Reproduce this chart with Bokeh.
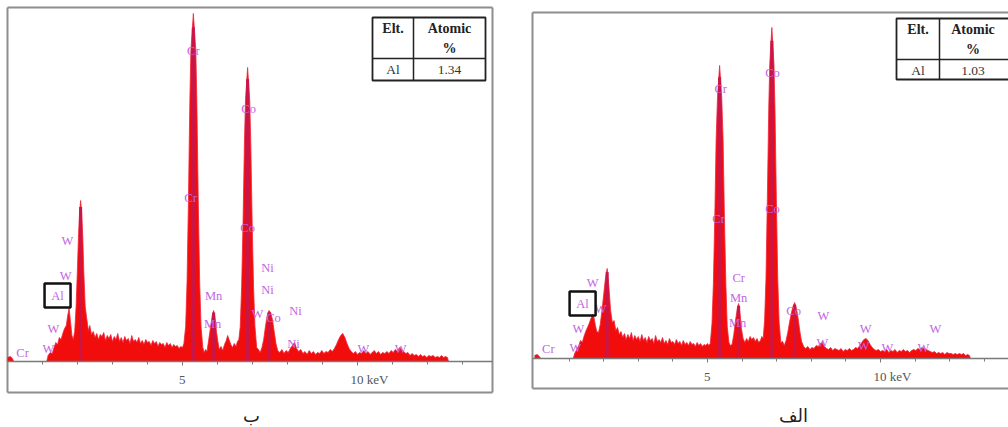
from bokeh.plotting import figure
from bokeh.models import Range1d, FixedTicker, ColumnDataSource
from bokeh.layouts import row
from bokeh.embed import file_html
from bokeh.resources import INLINE
from bokeh.core.properties import value

# ---------------- data ----------------
# energy in keV, counts in arbitrary units
LEFT_E = [0.00, 0.08, 0.14, 0.18, 1.12, 1.16, 1.22, 1.28, 1.33, 1.38, 1.43, 1.48, 1.53, 1.58, 1.63, 1.68,
          1.72, 1.76, 1.80, 1.84, 1.88, 1.92, 1.96, 2.00, 2.03, 2.06, 2.09, 2.12, 2.15, 2.18, 2.22, 2.26,
          2.31, 2.35, 2.40, 2.45, 2.50, 2.55, 2.60, 2.65, 2.70, 2.75, 2.80, 2.85, 2.90, 2.95, 3.00, 3.05,
          3.10, 3.15, 3.20, 3.25, 3.30, 3.35, 3.40, 3.45, 3.50, 3.55, 3.60, 3.65, 3.70, 3.75, 3.80, 3.85,
          3.90, 3.95, 4.00, 4.05, 4.10, 4.15, 4.20, 4.25, 4.30, 4.35, 4.40, 4.45, 4.50, 4.55, 4.60, 4.65,
          4.70, 4.75, 4.80, 4.85, 4.90, 4.95, 5.00, 5.04, 5.09, 5.13, 5.17, 5.21, 5.24, 5.31, 5.38, 5.41,
          5.45, 5.49, 5.53, 5.58, 5.62, 5.66, 5.70, 5.75, 5.80, 5.85, 5.89, 5.93, 5.97, 6.01, 6.05, 6.10,
          6.15, 6.20, 6.25, 6.29, 6.33, 6.38, 6.43, 6.48, 6.53, 6.57, 6.61, 6.65, 6.69, 6.73, 6.77, 6.80,
          6.86, 6.92, 6.95, 6.99, 7.03, 7.07, 7.12, 7.17, 7.22, 7.27, 7.32, 7.37, 7.42, 7.47, 7.52, 7.57,
          7.62, 7.67, 7.72, 7.78, 7.84, 7.90, 7.96, 8.02, 8.08, 8.14, 8.20, 8.26, 8.32, 8.38, 8.44, 8.50,
          8.56, 8.62, 8.68, 8.74, 8.80, 8.86, 8.92, 8.98, 9.04, 9.10, 9.16, 9.22, 9.28, 9.34, 9.40, 9.46,
          9.52, 9.58, 9.64, 9.70, 9.76, 9.82, 9.88, 9.94, 10.00, 10.06, 10.12, 10.18, 10.24, 10.30, 10.36, 10.42,
          10.48, 10.54, 10.60, 10.66, 10.72, 10.78, 10.84, 10.90, 10.96, 11.02, 11.08, 11.14, 11.20, 11.26, 11.32, 11.38,
          11.44, 11.50, 11.56, 11.62, 11.68, 11.74, 11.80, 11.86, 11.92, 11.98, 12.04, 12.10, 12.16, 12.22, 12.28, 12.34,
          12.40, 12.46, 12.52, 12.57, 12.60]
LEFT_C = [4, 5, 3, 0, 0, 6, 9, 8, 14, 19, 17, 24, 22, 28, 33, 36,
          46, 53, 40, 26, 22, 30, 55, 95, 128, 150, 161, 148, 125, 90, 55, 44,
          31, 36, 27, 30, 24, 28, 22, 27, 25, 29, 21, 26, 23, 27, 20, 25,
          22, 28, 20, 24, 19, 25, 21, 23, 18, 26, 20, 22, 19, 24, 18, 21,
          17, 22, 19, 20, 16, 21, 18, 20, 15, 19, 17, 18, 14, 19, 16, 18,
          14, 17, 15, 16, 13, 15, 14, 18, 35, 80, 161, 261, 311, 348, 311, 261,
          161, 80, 35, 14, 9, 12, 10, 22, 34, 46, 51, 44, 30, 20, 12, 15,
          11, 17, 21, 26, 22, 17, 14, 18, 15, 20, 22, 35, 75, 140, 220, 262,
          294, 262, 220, 140, 75, 35, 14, 12, 9, 14, 22, 35, 46, 51, 49, 42,
          30, 18, 11, 9, 12, 8, 11, 9, 13, 16, 19, 13, 10, 12, 8, 10,
          7, 11, 8, 10, 7, 9, 8, 11, 8, 10, 9, 12, 10, 13, 17, 22,
          26, 28, 24, 18, 13, 10, 8, 10, 7, 9, 8, 11, 8, 10, 7, 9,
          11, 8, 10, 7, 9, 8, 10, 8, 11, 9, 12, 10, 14, 12, 10, 8,
          9, 6, 8, 6, 7, 5, 7, 5, 6, 4, 6, 5, 6, 4, 5, 4,
          6, 4, 5, 4, 0]

RIGHT_E = [0.00, 0.08, 0.14, 0.18, 1.12, 1.16, 1.22, 1.28, 1.33, 1.38, 1.43, 1.48, 1.53, 1.58, 1.63, 1.68,
           1.72, 1.76, 1.80, 1.85, 1.90, 1.95, 2.00, 2.05, 2.10, 2.15, 2.20, 2.25, 2.30, 2.35, 2.40, 2.45,
           2.50, 2.55, 2.60, 2.65, 2.70, 2.75, 2.80, 2.85, 2.90, 2.95, 3.00, 3.05, 3.10, 3.15, 3.20, 3.25,
           3.30, 3.35, 3.40, 3.45, 3.50, 3.55, 3.60, 3.65, 3.70, 3.75, 3.80, 3.85, 3.90, 3.95, 4.00, 4.05,
           4.10, 4.15, 4.20, 4.25, 4.30, 4.35, 4.40, 4.45, 4.50, 4.55, 4.60, 4.65, 4.70, 4.75, 4.80, 4.85,
           4.90, 4.95, 5.00, 5.04, 5.08, 5.13, 5.17, 5.21, 5.25, 5.29, 5.35, 5.41, 5.45, 5.49, 5.53, 5.57,
           5.62, 5.66, 5.71, 5.76, 5.81, 5.86, 5.90, 5.94, 5.98, 6.03, 6.08, 6.13, 6.18, 6.23, 6.28, 6.33,
           6.38, 6.43, 6.48, 6.53, 6.57, 6.61, 6.65, 6.69, 6.73, 6.77, 6.80, 6.86, 6.92, 6.95, 6.99, 7.03,
           7.07, 7.12, 7.17, 7.22, 7.27, 7.32, 7.37, 7.42, 7.47, 7.52, 7.57, 7.62, 7.67, 7.72, 7.78, 7.84,
           7.90, 7.96, 8.02, 8.08, 8.14, 8.20, 8.26, 8.32, 8.38, 8.44, 8.50, 8.56, 8.62, 8.68, 8.74, 8.80,
           8.86, 8.92, 8.98, 9.04, 9.10, 9.16, 9.22, 9.28, 9.34, 9.40, 9.46, 9.52, 9.58, 9.64, 9.70, 9.76,
           9.82, 9.88, 9.94, 10.00, 10.06, 10.12, 10.18, 10.24, 10.30, 10.36, 10.42, 10.48, 10.54, 10.60, 10.66, 10.72,
           10.78, 10.84, 10.90, 10.96, 11.02, 11.08, 11.14, 11.20, 11.26, 11.32, 11.38, 11.44, 11.50, 11.56, 11.62, 11.68,
           11.74, 11.80, 11.86, 11.92, 11.98, 12.04, 12.10, 12.16, 12.22, 12.28, 12.34, 12.40, 12.46, 12.52, 12.57, 12.60]
RIGHT_C = [3, 4, 2, 0, 0, 5, 9, 13, 18, 16, 22, 27, 31, 35, 40, 44,
           41, 33, 27, 26, 34, 48, 64, 80, 90, 72, 48, 36, 38, 28, 31, 24,
           27, 21, 25, 19, 24, 20, 26, 18, 23, 19, 22, 17, 24, 18, 21, 16,
           22, 18, 20, 15, 23, 17, 19, 16, 21, 15, 18, 14, 20, 16, 17, 14,
           19, 15, 17, 13, 18, 14, 16, 13, 17, 14, 15, 12, 16, 13, 15, 12,
           14, 13, 15, 13, 15, 35, 75, 140, 220, 262, 293, 262, 220, 140, 75, 32,
           16, 13, 14, 24, 38, 50, 55, 45, 30, 20, 16, 20, 17, 22, 19, 21,
           17, 20, 16, 18, 22, 20, 38, 80, 160, 250, 295, 331, 295, 250, 160, 80,
           36, 16, 17, 13, 18, 26, 36, 45, 52, 56, 50, 40, 27, 17, 12, 10,
           12, 9, 11, 10, 13, 12, 15, 16, 12, 10, 9, 11, 8, 10, 9, 8,
           10, 7, 9, 8, 10, 8, 9, 11, 10, 13, 16, 19, 20, 18, 14, 11,
           9, 8, 9, 7, 8, 7, 9, 6, 8, 7, 9, 6, 8, 7, 9, 7,
           8, 6, 8, 9, 8, 10, 9, 11, 10, 9, 8, 7, 6, 7, 5, 6,
           5, 6, 4, 6, 5, 5, 4, 5, 4, 5, 4, 5, 3, 4, 3, 0]

# main peak cores (energy keV, counts)
LEFT_PEAK_E = [2.09, 5.31, 6.86, 5.89, 7.47]
LEFT_PEAK_C = [161, 348, 294, 51, 51]
RIGHT_PEAK_E = [2.10, 5.35, 6.86, 5.90, 7.52]
RIGHT_PEAK_C = [90, 293, 331, 55, 56]

# element labels
LEFT_LAB = ["Cr", "W", "W", "Al", "W", "W", "Cr", "Cr", "Co", "Co", "Mn", "Mn",
            "Ni", "Ni", "Ni", "Ni", "Co", "W", "W", "W"]
LEFT_LAB_E = [0.43, 1.71, 1.66, 1.43, 1.31, 1.17, 5.31, 5.23, 6.89, 6.86, 5.89, 5.86,
              7.43, 7.43, 8.23, 8.17, 7.60, 10.17, 11.23, 7.14]
LEFT_LAB_C = [9, 121, 86, 66, 33, 13, 311, 164, 253, 134, 66, 38,
              94, 72, 51, 18, 44, 13, 13, 48]
RIGHT_LAB = ["Cr", "W", "Al", "W", "W", "W", "Cr", "Cr", "Co", "Co", "Cr", "Mn", "Mn",
             "Co", "W", "W", "W", "W", "W", "W", "W"]
RIGHT_LAB_E = [0.40, 1.68, 1.39, 1.91, 1.27, 1.18, 5.38, 5.32, 6.88, 6.88, 5.90, 5.90, 5.87,
               7.49, 8.35, 9.57, 11.59, 8.32, 9.51, 10.20, 11.24]
RIGHT_LAB_C = [10, 76, 55, 50, 30, 11, 270, 140, 286, 150, 81, 61, 36,
               48, 43, 30, 30, 16, 13, 11, 11]

TICKS = [5, 10]
TICK_LABELS = ["5", "10 keV"]
MINOR_TICKS = [1, 2, 3, 4, 5, 6, 7, 8, 9, 10, 11, 12, 13]

TABLE_HEAD = ["Elt.", "Atomic", "%"]
LEFT_ROW = ["Al", "1.34"]
RIGHT_ROW = ["Al", "1.03"]
CAPTIONS = ["ب", "الف"]

SERIF = "Liberation Serif"
LABEL_COLOR = "#c266e4"
BOX_COLOR = "#8e8e8e"


def panel(E, C, PE, PC, LAB, LE, LC, width, height, fig_left, zero_x, ppk, base_y, box):
    x0 = (fig_left - zero_x) / ppk
    x1 = x0 + width / ppk
    p = figure(width=width, height=height, output_backend="svg", toolbar_location=None,
               x_range=Range1d(x0, x1), y_range=Range1d(-(height - base_y), base_y),
               min_border=0)
    p.background_fill_color = "white"
    p.border_fill_color = "white"
    p.outline_line_color = None
    p.grid.visible = False
    p.yaxis.visible = False

    def dx(px):
        return (px - zero_x) / ppk

    def dy(py):
        return base_y - py

    bl, bt, br, bb = box
    ax = p.xaxis[0]
    ax.fixed_location = 0
    ax.bounds = (dx(bl), dx(min(br, fig_left + width)))
    ax.ticker = FixedTicker(ticks=TICKS, minor_ticks=MINOR_TICKS)
    ax.major_label_overrides = {t: "" for t in TICKS}
    ax.axis_line_color = "#7a7a7a"
    ax.axis_line_width = 1.5
    ax.major_tick_in = 0
    ax.major_tick_out = 4
    ax.minor_tick_in = 0
    ax.minor_tick_out = 3
    ax.major_tick_line_color = "#7a7a7a"
    ax.minor_tick_line_color = "#7a7a7a"

    # panel box
    xs0 = [dx(bl), dx(bl), dx(bl)]
    ys0 = [dy(bt), dy(bt), dy(bb)]
    xs1 = [dx(bl), dx(br), dx(br)]
    ys1 = [dy(bb), dy(bt), dy(bb)]
    if br < fig_left + width:
        xs0.append(dx(br)); ys0.append(dy(bt)); xs1.append(dx(br)); ys1.append(dy(bb))
    p.segment(x0=xs0, y0=ys0, x1=xs1, y1=ys1, line_color=BOX_COLOR, line_width=2)

    # spectrum
    src = ColumnDataSource(dict(x=E, y=C, y0=[0] * len(E)))
    p.varea(x="x", y1="y0", y2="y", source=src, fill_color="#f20d0d")
    p.line(x="x", y="y", source=src, line_color="#f0243c", line_width=0.8)
    p.segment(x0=PE, y0=[0] * len(PE), x1=PE, y1=[c * 0.96 for c in PC],
              line_color="#c8164a", line_width=3)

    # element labels
    lsrc = ColumnDataSource(dict(x=LE, y=LC, t=LAB))
    p.text(x="x", y="y", text="t", source=lsrc, text_font=value(SERIF), text_font_size="12.5px",
           text_color=LABEL_COLOR, text_align="center", text_baseline="middle")
    ai = LAB.index("Al")
    p.rect(x=[LE[ai]], y=[LC[ai]], width=[26], height=[24], width_units="screen",
           height_units="screen", fill_color=None, line_color="#111111", line_width=2.5)

    # tick labels
    p.text(x=TICKS, y=[-18, -18], text=TICK_LABELS, text_font=value(SERIF), text_font_size="13px",
           text_color="#555555", text_align="left", text_baseline="middle", x_offset=[-3.5, -7])
    return p, dx, dy


def add_table(p, dx, dy, l, c, r, t, m, b, vals, right_visible):
    p.quad(left=[dx(l)], right=[dx(r)], top=[dy(t)], bottom=[dy(b)],
           fill_color="white", line_color="#222222", line_width=1.8)
    p.segment(x0=[dx(c), dx(l)], y0=[dy(t), dy(m)], x1=[dx(c), dx(r)], y1=[dy(b), dy(m)],
              line_color="#222222", line_width=1.5)
    cx1 = (l + c) / 2
    cx2 = (c + right_visible) / 2
    p.text(x=[dx(cx1), dx(cx2), dx(cx2)], y=[dy(t + 11), dy(t + 11), dy(t + 31)], text=TABLE_HEAD,
           text_font=value(SERIF), text_font_size="14px", text_font_style="bold",
           text_color="#222222", text_align="center", text_baseline="middle")
    p.text(x=[dx(cx1), dx(cx2)], y=[dy(m + 11), dy(m + 11)], text=vals,
           text_font=value(SERIF), text_font_size="13.5px",
           text_color="#333333", text_align="center", text_baseline="middle")


def caption(p, dx, dy, cx, text):
    p.text(x=[dx(cx)], y=[dy(415)], text=[text], text_font=value("DejaVu Sans"),
           text_font_size="18px", text_color="#222222", text_align="center",
           text_baseline="alphabetic")


# left panel (ب): page x 0..500
p1, dx1, dy1 = panel(LEFT_E, LEFT_C, LEFT_PEAK_E, LEFT_PEAK_C, LEFT_LAB, LEFT_LAB_E, LEFT_LAB_C,
                     500, 427, 0, 7, 35.0, 361, (7, 7, 492, 392))
add_table(p1, dx1, dy1, 372, 413, 485, 17, 58, 80, LEFT_ROW, 485)
caption(p1, dx1, dy1, 251, CAPTIONS[0])

# right panel (الف): page x 500..1008
p2, dx2, dy2 = panel(RIGHT_E, RIGHT_C, RIGHT_PEAK_E, RIGHT_PEAK_C, RIGHT_LAB, RIGHT_LAB_E, RIGHT_LAB_C,
                     508, 427, 500, 534, 34.6, 358, (532, 12, 1060, 388))
add_table(p2, dx2, dy2, 896, 939, 1012, 18, 59, 79, RIGHT_ROW, 1006)
caption(p2, dx2, dy2, 793, CAPTIONS[1])

layout = row(p1, p2, spacing=0)
open("out.html", "w").write(file_html(layout, INLINE))
